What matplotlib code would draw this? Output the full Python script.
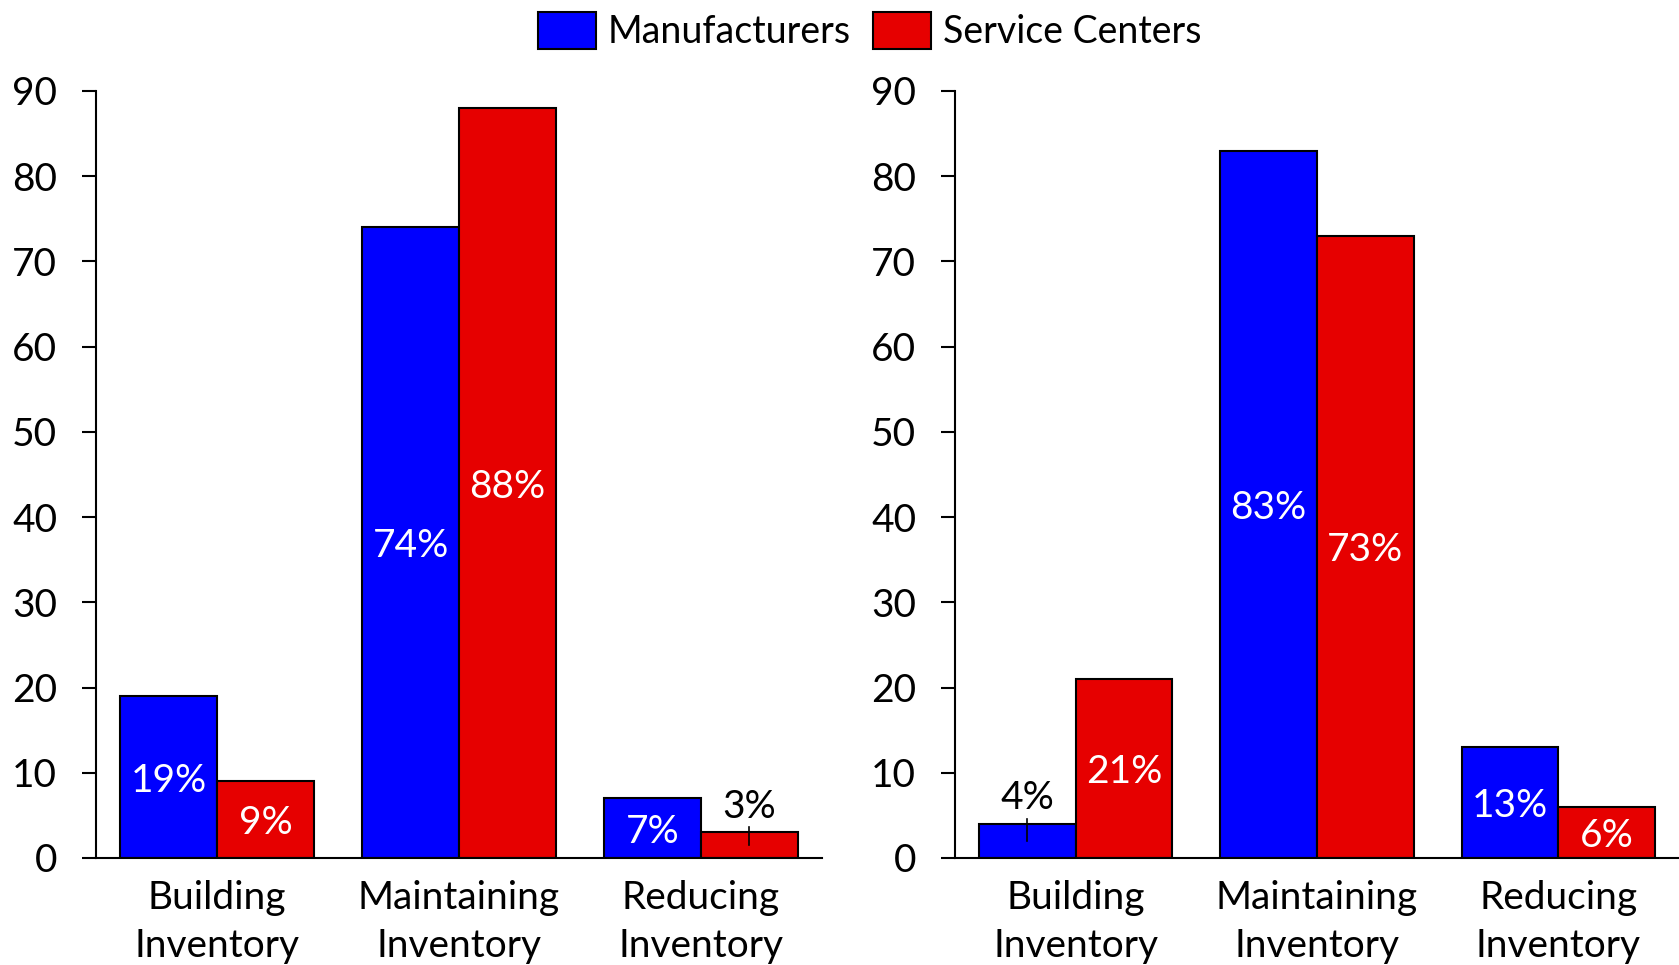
import matplotlib
matplotlib.use("Agg")
import matplotlib.pyplot as plt
import numpy as np

plt.rcParams['font.family'] = ['Lato', 'DejaVu Sans']
plt.rcParams['font.size'] = 28

categories = ["Building\nInventory", "Maintaining\nInventory", "Reducing\nInventory"]
series_names = ["Manufacturers", "Service Centers"]
left_manufacturers = [19, 74, 7]
left_service = [9, 88, 3]
right_manufacturers = [4, 83, 13]
right_service = [21, 73, 6]
yticks = [0, 10, 20, 30, 40, 50, 60, 70, 80, 90]

BLUE = "#0000FF"
RED = "#E60000"


def draw_panel(ax, manu, serv):
    x = np.arange(len(categories))
    w = 0.4
    b1 = ax.bar(x - w / 2, manu, w, color=BLUE, edgecolor="black", linewidth=1.5,
                label=series_names[0])
    b2 = ax.bar(x + w / 2, serv, w, color=RED, edgecolor="black", linewidth=1.5,
                label=series_names[1])
    for bars in (b1, b2):
        for rect in bars:
            v = rect.get_height()
            cx = rect.get_x() + rect.get_width() / 2
            if v < 5:
                # small bar: label above with a little leader line
                ax.plot([cx, cx], [v / 2, v + 0.6], color="black", lw=1.2)
                ax.text(cx, v + 3.4, "{0}%".format(v), ha="center",
                        va="center_baseline", color="black")
            else:
                ax.text(cx, v / 2, "{0}%".format(v), ha="center",
                        va="center_baseline", color="white")
    ax.set_xlim(-0.5, 2.5)
    ax.set_ylim(0, 90)
    ax.set_yticks(yticks)
    ax.set_xticks(x)
    ax.set_xticklabels(categories, linespacing=1.4)
    ax.tick_params(axis="x", length=0, pad=16)
    ax.tick_params(axis="y", length=10, width=1.5, pad=18)
    for s in ("top", "right"):
        ax.spines[s].set_visible(False)
    for s in ("left", "bottom"):
        ax.spines[s].set_linewidth(1.5)
    return b1, b2


fig = plt.figure(figsize=(16.79, 9.65), dpi=100)
ax1 = fig.add_axes([0.0572, 0.1109, 0.4324, 0.7948])
ax2 = fig.add_axes([0.5688, 0.1109, 0.4312, 0.7948])
draw_panel(ax1, left_manufacturers, left_service)
draw_panel(ax2, right_manufacturers, right_service)

handles, labels = ax1.get_legend_handles_labels()
fig.legend(handles, labels, loc="center", bbox_to_anchor=(0.518, 0.968), ncol=2,
           frameon=False, fontsize=27, handlelength=1.55, handleheight=1.15,
           handletextpad=0.3, columnspacing=0.6, borderaxespad=0)

fig.savefig("out.png", dpi=100)
